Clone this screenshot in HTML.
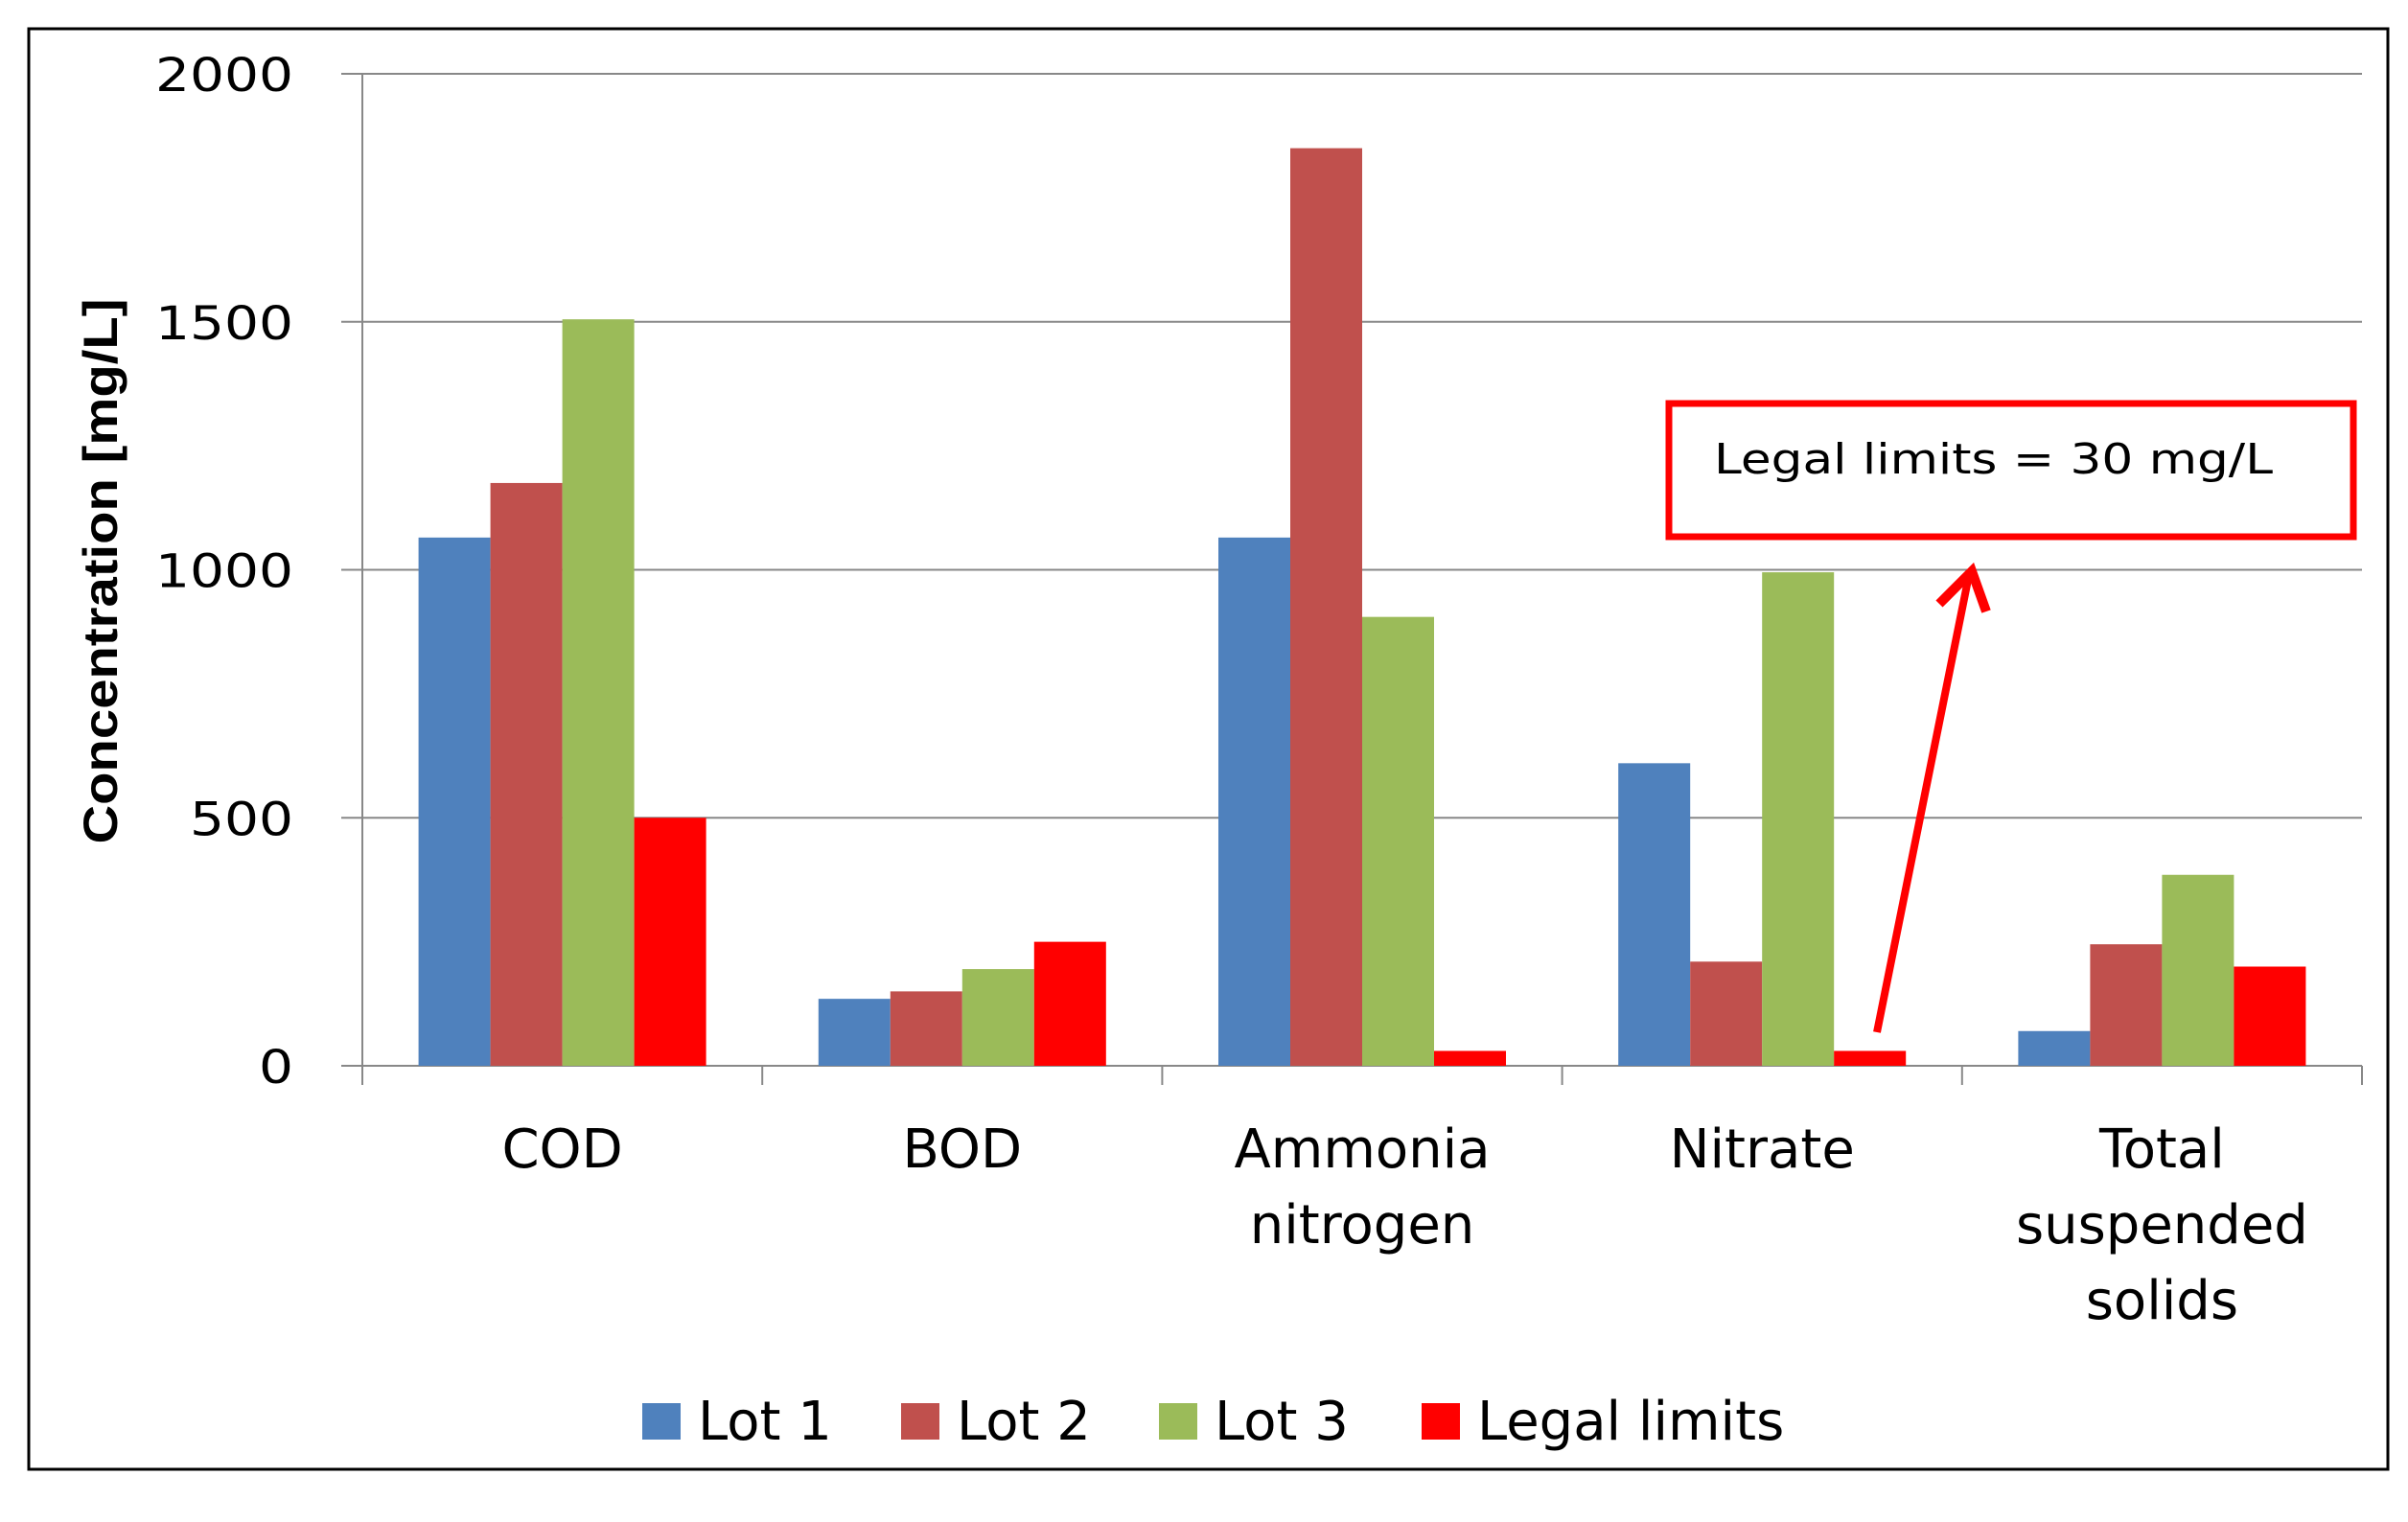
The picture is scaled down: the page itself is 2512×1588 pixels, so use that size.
<!DOCTYPE html>
<html><head><meta charset="utf-8"><style>
html,body{margin:0;padding:0;background:#fff;}
svg{display:block;font-family:"DejaVu Sans","Liberation Sans",sans-serif;}
</style></head><body>
<svg id="chart" width="2512" height="1588" viewBox="0 0 2512 1588">
<rect x="30" y="30" width="2461" height="1503" fill="#fff" stroke="#000" stroke-width="3"/>
<g id="grid"></g><g id="bars"></g><g id="axes"></g>
<text x="0" y="0" transform="translate(122,596) rotate(-90)" text-anchor="middle" font-size="50" font-weight="bold" font-family="Liberation Sans" textLength="569" lengthAdjust="spacingAndGlyphs">Concentration [mg/L]</text>
<g id="legend"></g>
<g>
<rect x="1741" y="421" width="714" height="139" fill="none" stroke="#ff0000" stroke-width="7"/>
<text x="1788" y="494" font-size="44" fill="#000" textLength="583" lengthAdjust="spacingAndGlyphs">Legal limits = 30 mg/L</text>
<line x1="1958" y1="1077" x2="2054" y2="600" stroke="#ff0000" stroke-width="8"/>
<polyline points="2023,630 2057,596 2072,638" fill="none" stroke="#ff0000" stroke-width="10" stroke-linejoin="miter"/>
</g>
</svg>
<script>
const categories = [["COD"],["BOD"],["Ammonia","nitrogen"],["Nitrate"],["Total","suspended","solids"]];
const seriesNames = ["Lot 1","Lot 2","Lot 3","Legal limits"];
const lot1 = [1065,135,1065,610,70];
const lot2 = [1175,150,1850,210,245];
const lot3 = [1505,195,905,995,385];
const legal = [500,250,30,30,200];
const yTicks = [0,500,1000,1500,2000];
const colors = ["#4f81bd","#c0504d","#9bbb59","#ff0000"];
const NS="http://www.w3.org/2000/svg";
const X0=378,X1=2464,Y0=1112,Y2000=77;
const y=v=>Y0-(v/2000)*(Y0-Y2000);
const catW=(X1-X0)/categories.length;
const barW=75;
function mk(t,a,p){const e=document.createElementNS(NS,t);for(const k in a)e.setAttribute(k,a[k]);p.appendChild(e);return e;}
const grid=document.getElementById('grid'),bars=document.getElementById('bars'),axes=document.getElementById('axes'),legend=document.getElementById('legend');
yTicks.forEach(t=>{
 const l=mk('line',{x1:356,x2:X1,y1:y(t),y2:y(t),stroke:'#888','stroke-width':2},grid);
 
 
 const s=String(t);
 const tx=mk('text',{x:306,y:y(t)+18,'text-anchor':'end','font-size':48,textLength:36*s.length,lengthAdjust:'spacingAndGlyphs'},grid);
 tx.textContent=s;
 
 
});
const series=[lot1,lot2,lot3,legal];
categories.forEach((c,i)=>{
 const gx=X0+i*catW+(catW-4*barW)/2;
 series.forEach((s,j)=>{
  const r=mk('rect',{x:gx+j*barW,y:y(s[i]),width:barW,height:Y0-y(s[i]),fill:colors[j]},bars);
  
  
 });
 c.forEach((line,k)=>{
  const t=mk('text',{x:X0+(i+0.5)*catW,y:1218+k*79,'text-anchor':'middle','font-size':56},axes);
  t.textContent=line;
  
  
 });
});
const ax=mk('line',{x1:X0,x2:X0,y1:Y2000,y2:1132,stroke:'#888','stroke-width':2},axes);


for(let i=0;i<=categories.length;i++){
 const tk=mk('line',{x1:X0+i*catW,x2:X0+i*catW,y1:Y0,y2:1132,stroke:'#888','stroke-width':2},axes);
 
 
}
const lx=[670,940,1209,1483];
seriesNames.forEach((n,j)=>{
 const r=mk('rect',{x:lx[j],y:1464,width:40,height:38,fill:colors[j]},legend);
 
 
 const t=mk('text',{x:lx[j]+58,y:1502,'font-size':56},legend);
 t.textContent=n;
 
 
});
</script>
</body></html>
